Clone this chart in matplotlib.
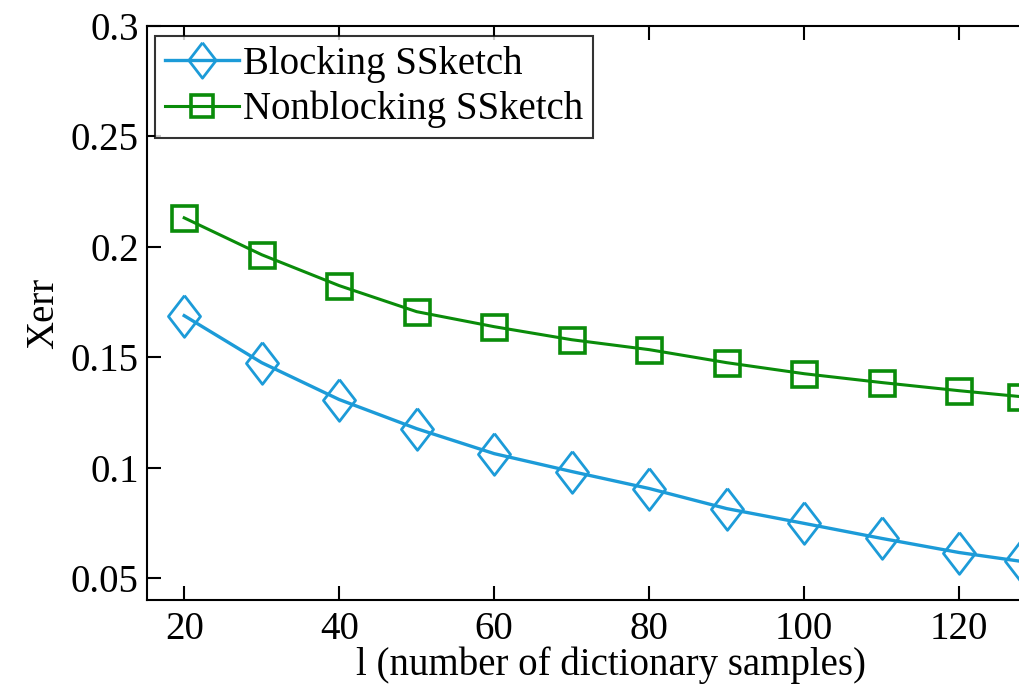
import matplotlib
matplotlib.use("Agg")
import matplotlib.pyplot as plt
from matplotlib.ticker import FormatStrFormatter

# data
samples = [20, 30, 40, 50, 60, 70, 80, 90, 100, 110, 120, 128]
blocking = [0.1688, 0.1475, 0.1308, 0.1176, 0.1063, 0.0982, 0.0905, 0.0814,
            0.0747, 0.0679, 0.0615, 0.0575]
nonblocking = [0.2131, 0.1964, 0.1824, 0.1706, 0.1638, 0.1579, 0.1534, 0.1475,
               0.1425, 0.1385, 0.1348, 0.1321]
xticks = [20, 40, 60, 80, 100, 120]
yticks = [0.05, 0.1, 0.15, 0.2, 0.25, 0.3]

plt.rcParams['font.family'] = ['Liberation Serif', 'DejaVu Serif']
plt.rcParams['font.size'] = 28

fig = plt.figure(figsize=(10.2, 6.88), dpi=100)
# axes run past the right edge of the figure, as in the cropped reference
x0, x1 = 15.2, 135
ax = fig.add_axes([147 / 1020, (688 - 600) / 688, (x1 - x0) * 7.75 / 1020, 574 / 688])

# matlab-like tall diamond
tall_diamond = [(0, 1), (0.77, 0), (0, -1), (-0.77, 0), (0, 1)]

blue = '#1c9bd8'
green = '#0a8c0a'
ax.plot(samples, blocking, color=blue, lw=2.4, marker=tall_diamond, markersize=30,
        markerfacecolor='none', markeredgewidth=2.0, label='Blocking SSketch',
        clip_on=False)
ax.plot(samples, nonblocking, color=green, lw=2.2, marker='s', markersize=18,
        markerfacecolor='none', markeredgewidth=2.6, label='Nonblocking SSketch',
        clip_on=False)

ax.set_xlim(x0, x1)
ax.set_ylim(0.04, 0.3)
ax.set_xticks(xticks)
ax.set_yticks(yticks)
ax.yaxis.set_major_formatter(FormatStrFormatter('%g'))
ax.tick_params(direction='in', length=10, width=1.5, top=True, right=True,
               labelsize=28)
ax.tick_params(axis='y', pad=6)
ax.tick_params(axis='x', pad=8)
for s in ax.spines.values():
    s.set_linewidth(1.5)

ax.set_xlabel('l (number of dictionary samples)', fontsize=28, labelpad=-1)
ax.set_ylabel('Xerr', fontsize=28, labelpad=6)

leg = ax.legend(loc='upper left', bbox_to_anchor=(0.009, 0.982), fontsize=28,
                frameon=True, fancybox=False, edgecolor='black',
                handlelength=1.9, handletextpad=0.1, borderpad=0.25,
                labelspacing=0.2, borderaxespad=0, markerscale=0.85)
leg.get_frame().set_linewidth(1.5)

fig.savefig('out.png', dpi=100)
